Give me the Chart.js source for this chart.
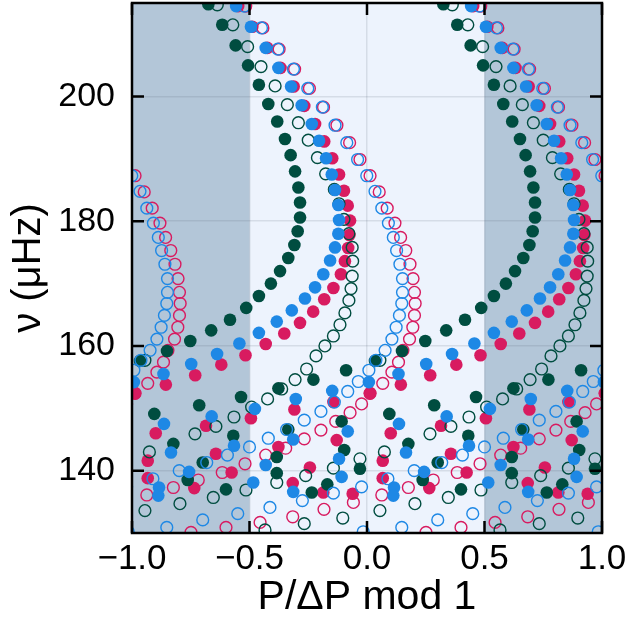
<!DOCTYPE html>
<html lang="en">
<head>
<meta charset="UTF-8">
<title>Period echelle diagram</title>
<script src="https://cdn.jsdelivr.net/npm/chart.js"></script>
<style>
  html, body { margin: 0; padding: 0; background: #fff; }
  #wrap { width: 630px; height: 622px; }
</style>
</head>
<body>
<div id="wrap"><canvas id="echelle" width="630" height="622"></canvas></div>
<script>
// [P/dP mod 1, frequency in uHz], one list per marker style
const greenFilled = [
  [0.325,214.8],[0.384,211.5],[0.441,208.2],[0.494,205.0],[-0.46,201.9],[-0.42,198.8],[-0.382,196.0],
  [-0.349,193.2],[-0.325,190.6],[-0.306,188.0],[-0.292,185.4],[-0.285,183.0],[-0.285,180.6],[-0.295,178.4],
  [-0.309,176.2],[-0.335,174.1],[-0.37,172.0],[-0.409,170.0],[-0.46,168.0],[0.486,166.1],[0.417,164.2],
  [0.337,162.5],[0.248,160.8],[0.149,159.2],[0.034,157.6],[-0.089,156.1],[-0.228,154.6],[-0.377,153.2],
  [0.464,151.8],[0.286,150.5],[0.095,149.1],[-0.108,147.9],[-0.335,146.6],[0.431,145.6],[0.176,144.3],
  [-0.097,143.3],[-0.384,142.2],[0.301,141.3],[-0.03,140.3],[-0.384,139.6],[0.237,138.5],[-0.169,137.8],
  [0.4,137.0],[-0.235,136.5]
];
const greenOpen = [
  [0.363,214.7],[0.429,211.5],[0.492,208.0],[-0.451,204.8],[-0.391,201.7],[-0.339,198.7],[-0.292,195.8],
  [-0.25,193.0],[-0.211,190.2],[-0.176,187.6],[-0.139,185.1],[-0.119,182.8],[-0.098,180.3],[-0.077,178.0],
  [-0.063,175.8],[-0.061,173.6],[-0.063,171.2],[-0.068,169.2],[-0.077,167.3],[-0.094,165.3],[-0.115,163.4],
  [-0.143,161.6],[-0.179,160.0],[-0.217,158.4],[-0.257,156.3],[-0.306,154.6],[-0.363,153.1],[-0.423,151.5],
  [-0.491,150.2],[0.434,148.6],[0.357,147.1],[0.268,145.9],[0.074,143.0],[-0.03,141.9],[-0.143,140.4],
  [-0.261,139.2],[-0.384,138.1],[0.485,136.9],[0.346,135.7],[0.204,134.7],[0.055,133.6],[-0.103,132.4],
  [-0.267,131.5],[-0.434,130.5],[0.055,157.7]
];
const blueFilled = [
  [0.443,214.5],[-0.494,211.2],[-0.431,207.8],[-0.377,204.6],[-0.323,201.6],[-0.278,198.6],[-0.235,195.6],
  [-0.204,192.9],[-0.174,190.1],[-0.15,187.5],[-0.136,185.0],[-0.122,182.6],[-0.119,180.2],[-0.122,178.0],
  [-0.136,175.8],[-0.157,173.7],[-0.186,171.5],[-0.221,169.4],[-0.264,167.6],[-0.32,165.7],[-0.384,163.9],
  [-0.46,162.1],[0.457,160.4],[0.362,158.7],[0.252,157.1],[0.134,155.5],[0.008,154.2],[-0.148,152.8],
  [-0.303,151.5],[-0.477,149.9],[0.339,148.7],[0.136,147.5],[-0.082,146.3],[-0.314,145.0],[0.434,144.0],
  [0.166,142.9],[-0.119,141.9],[-0.431,140.9],[0.243,139.8],[-0.108,139.0],[-0.484,138.1],[0.115,137.3],
  [-0.314,136.6],[0.112,136.0]
];
const crimsonFilled = [
  [0.452,214.5],[-0.488,211.2],[-0.424,207.8],[-0.368,204.6],[-0.312,201.6],[-0.267,198.5],[-0.221,195.6],
  [-0.182,192.8],[-0.148,190.1],[-0.119,187.5],[-0.098,184.9],[-0.082,182.5],[-0.072,180.1],[-0.075,177.8],
  [-0.08,175.7],[-0.094,173.6],[-0.111,171.5],[-0.143,169.3],[-0.182,167.5],[-0.229,165.5],[-0.285,163.7],
  [-0.352,162.0],[-0.431,160.3],[0.483,158.5],[0.38,157.0],[0.269,155.3],[0.144,153.8],[0.013,152.4],
  [-0.143,151.0],[-0.309,149.8],[-0.494,148.4],[0.315,147.2],[0.101,146.0],[-0.129,144.9],[-0.377,143.8],
  [0.357,142.7],[0.067,141.6],[-0.243,140.5],[0.424,139.7],[0.067,138.8],[-0.316,138.0],[0.265,137.2],
  [-0.186,136.5],[-0.061,136.3]
];
const blueOpen = [
  [0.478,214.5],[-0.449,211.0],[-0.379,207.6],[-0.313,204.4],[-0.252,201.3],[-0.19,198.3],[-0.136,195.4],
  [-0.086,192.6],[-0.04,189.9],[-0.001,187.3],[0.034,184.8],[0.063,182.1],[0.091,179.7],[0.112,177.4],
  [0.126,175.3],[0.14,173.1],[0.151,170.8],[0.151,168.6],[0.148,166.8],[0.138,164.9],[0.124,163.0],
  [0.106,161.1],[0.077,159.3],[0.038,157.7],[0.008,156.1],[-0.037,154.3],[-0.082,152.7],[-0.139,151.0],
  [-0.196,149.5],[-0.267,148.1],[-0.342,146.6],[-0.42,145.2],[-0.5,143.8],[0.406,142.5],[0.318,141.3],
  [0.201,140.0],[0.089,138.7],[-0.023,137.4],[-0.143,136.4],[-0.275,135.2],[-0.413,134.1],[0.45,133.1],
  [0.301,132.1],[0.148,130.9],[-0.016,130.2]
];
const crimsonOpen = [
  [0.484,214.5],[-0.443,211.0],[-0.374,207.6],[-0.308,204.4],[-0.245,201.3],[-0.185,198.3],[-0.128,195.4],
  [-0.074,192.6],[-0.03,189.9],[0.013,187.3],[0.052,184.7],[0.086,182.1],[0.119,179.7],[0.143,177.4],
  [0.165,175.3],[0.183,173.1],[0.196,170.8],[0.202,168.6],[0.205,166.8],[0.202,164.9],[0.195,163.0],
  [0.181,161.1],[0.153,159.3],[0.134,157.4],[0.106,155.8],[0.067,154.0],[0.013,152.4],[-0.023,150.7],
  [-0.072,149.3],[-0.133,147.9],[-0.196,146.5],[-0.267,145.1],[-0.346,143.6],[-0.431,142.5],[0.481,141.1],
  [0.384,139.7],[0.282,138.5],[0.176,137.3],[0.063,136.1],[-0.058,134.9],[-0.183,133.8],[-0.316,132.6],
  [-0.455,131.7],[0.4,130.9],[0.251,130.1]
];

const xTicks = [-1, -0.5, 0, 0.5, 1];
const yTicks = [140, 160, 180, 200];

const GREEN = '#004D40';
const BLUE = '#1E88E5';
const CRIMSON = '#D81B60';

// every mode is repeated one period to the left and right
function wrapped(points) {
  const out = [];
  points.forEach(([p, nu]) => {
    [-1, 0, 1].forEach(shift => {
      const x = p + shift;
      if (x >= -1.05 && x <= 1.05) out.push({ x: x, y: nu });
    });
  });
  return out;
}

function filled(points, color) {
  return {
    data: wrapped(points),
    pointRadius: 6.3,
    pointBackgroundColor: color,
    pointBorderWidth: 0,
    pointBorderColor: color,
    clip: 0
  };
}

function open(points, color) {
  return {
    data: wrapped(points),
    pointRadius: 5.9,
    pointBackgroundColor: 'rgba(0,0,0,0)',
    pointBorderWidth: 1.4,
    pointBorderColor: color,
    clip: 0
  };
}

// shaded side bands behind the repeated halves
const backdrop = {
  id: 'backdrop',
  beforeDraw(chart) {
    const { ctx, chartArea: a, scales: { x } } = chart;
    const l = x.getPixelForValue(-0.5);
    const r = x.getPixelForValue(0.5);
    ctx.save();
    ctx.fillStyle = '#B3C6D8';
    ctx.fillRect(a.left, a.top, a.right - a.left, a.bottom - a.top);
    ctx.fillStyle = '#EDF3FD';
    ctx.fillRect(l, a.top, r - l, a.bottom - a.top);
    ctx.restore();
  }
};

// black box with inward ticks on all four sides
const frame = {
  id: 'frame',
  afterDraw(chart) {
    const { ctx, chartArea: a, scales: { x, y } } = chart;
    const len = 12;
    ctx.save();
    ctx.strokeStyle = '#000';
    ctx.lineWidth = 2.5;
    ctx.beginPath();
    xTicks.forEach(v => {
      const px = x.getPixelForValue(v);
      ctx.moveTo(px, a.bottom); ctx.lineTo(px, a.bottom - len);
      ctx.moveTo(px, a.top); ctx.lineTo(px, a.top + len);
    });
    yTicks.forEach(v => {
      const py = y.getPixelForValue(v);
      ctx.moveTo(a.left, py); ctx.lineTo(a.left + len, py);
      ctx.moveTo(a.right, py); ctx.lineTo(a.right - len, py);
    });
    ctx.stroke();
    ctx.strokeRect(a.left, a.top, a.right - a.left, a.bottom - a.top);
    ctx.restore();
  }
};

Chart.defaults.font.family = "'Liberation Sans', Arial, sans-serif";
Chart.defaults.color = '#000';

// first dataset is painted last, so it sits on top
new Chart(document.getElementById('echelle'), {
  type: 'scatter',
  data: {
    datasets: [
      open(blueOpen, BLUE),
      filled(blueFilled, BLUE),
      open(greenOpen, GREEN),
      filled(greenFilled, GREEN),
      open(crimsonOpen, CRIMSON),
      filled(crimsonFilled, CRIMSON)
    ]
  },
  options: {
    responsive: false,
    animation: false,
    devicePixelRatio: 1,
    layout: { autoPadding: false, padding: { left: 0, right: 28, top: 3, bottom: 0 } },
    plugins: { legend: { display: false }, tooltip: { enabled: false } },
    scales: {
      x: {
        type: 'linear',
        min: -1,
        max: 1,
        afterBuildTicks: s => { s.ticks = xTicks.map(v => ({ value: v })); },
        afterFit: s => { s.height = 89; s.paddingLeft = 0; s.paddingRight = 0; },
        grid: { color: 'rgba(90,100,120,0.16)', lineWidth: 1.5, drawTicks: false },
        border: { display: false },
        ticks: {
          font: { size: 35 },
          padding: 5,
          maxRotation: 0,
          autoSkip: false,
          callback: v => v.toFixed(1).replace('-', '\u2212')
        },
        title: { display: true, text: 'P/ΔP mod 1', font: { size: 41 }, padding: { top: 0, bottom: 0 } }
      },
      y: {
        type: 'linear',
        min: 130,
        max: 215,
        afterBuildTicks: s => { s.ticks = yTicks.map(v => ({ value: v })); },
        afterFit: s => { s.width = 132; s.paddingTop = 0; s.paddingBottom = 0; },
        grid: { color: 'rgba(90,100,120,0.16)', lineWidth: 1.5, drawTicks: false },
        border: { display: false },
        ticks: { font: { size: 34 }, padding: 17, autoSkip: false },
        title: { display: true, text: 'ν (μHz)', font: { size: 40 }, padding: { top: 5, bottom: 0 } }
      }
    }
  },
  plugins: [backdrop, frame]
});
</script>
</body>
</html>
